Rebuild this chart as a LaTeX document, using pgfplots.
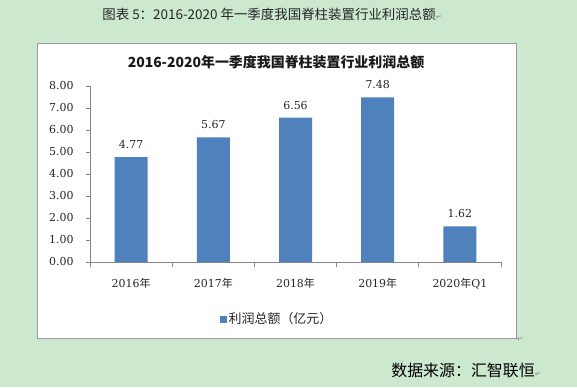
\documentclass[border=0pt]{standalone}
\usepackage{fontspec}
\setmainfont{DejaVu Serif}
\newfontfamily\cjk{Noto Sans CJK SC}
\newfontfamily\sym{DejaVu Sans}
\usepackage{pgfplots}
\pgfplotsset{compat=1.18}
\definecolor{bg}{HTML}{CCE8CF}
\definecolor{barblue}{HTML}{4F81BD}
\definecolor{axgray}{HTML}{868686}
\definecolor{boxgray}{HTML}{9A9A9A}
\newcommand{\ret}{{\sym\fontsize{7}{8}\selectfont\color{gray}↵}}
\begin{document}
\begin{tikzpicture}[x=1bp,y=1bp]
\fill[bg] (0,0) rectangle (577,387);
\fill[white] (37,49) rectangle (516,344);
\draw[boxgray, line width=0.8bp] (37,49) rectangle (516,344);
\node[font=\fontsize{13.5}{15}\selectfont\cjk, text=black!85, inner sep=0] at (272,373) {图表\ 5：2016-2020 年一季度我国脊柱装置行业利润总额\ret};
\node[font=\fontsize{14}{16}\selectfont\cjk\bfseries, text=black!90, inner sep=0] at (276,325) {2016-2020年一季度我国脊柱装置行业利润总额};
\node[anchor=west, inner sep=0] at (517,48) {\ret};
\node[font=\fontsize{16}{18}\selectfont\cjk, text=black, inner sep=0] at (466,17) {数据来源：汇智联恒\ret};
\begin{axis}[
  at={(90bp,125bp)}, anchor=south west,
  scale only axis, width=411bp, height=176bp,
  xmin=-0.5, xmax=4.5, ymin=0, ymax=8,
  axis lines*=left,
  axis line style={axgray, line width=0.8bp},
  ytick={0,1,...,8},
  yticklabel style={/pgf/number format/fixed, /pgf/number format/precision=2, /pgf/number format/fixed zerofill, xshift=-9bp},
  /pgf/number format/assume math mode=true,
  ticklabel style={font=\fontsize{11}{13}\selectfont, text=black!85},
  xtick={0,1,2,3,4},
  xticklabels={{2016{\cjk 年}},{2017{\cjk 年}},{2018{\cjk 年}},{2019{\cjk 年}},{2020{\cjk 年}Q1}},
  xticklabel style={yshift=-9bp},
  minor xtick={-0.5,0.5,1.5,2.5,3.5,4.5},
  major x tick style={draw=none},
  minor x tick style={axgray, line width=0.8bp},
  minor tick length=5bp,
  major tick length=4bp,
  y tick style={axgray, line width=0.8bp},
  tick align=outside,
  ybar, bar width=33bp,
  nodes near coords,
  nodes near coords style={font=\fontsize{11}{13}\selectfont, text=black!85, /pgf/number format/fixed, /pgf/number format/precision=2, /pgf/number format/fixed zerofill, yshift=5bp},
  legend style={at={(rel axis cs:0.455,-0.324)}, anchor=center, draw=none, fill=none, font=\fontsize{13}{15}\selectfont\cjk, text=black!85},
  legend image code/.code={\fill[barblue] (0bp,-3.5bp) rectangle (7bp,3.5bp);},
  clip=false,
]
\addplot[fill=barblue, draw=none] coordinates {(0,4.77) (1,5.67) (2,6.56) (3,7.48) (4,1.62)};
\addlegendentry{利润总额（亿元）}
\end{axis}
\end{tikzpicture}
\end{document}
